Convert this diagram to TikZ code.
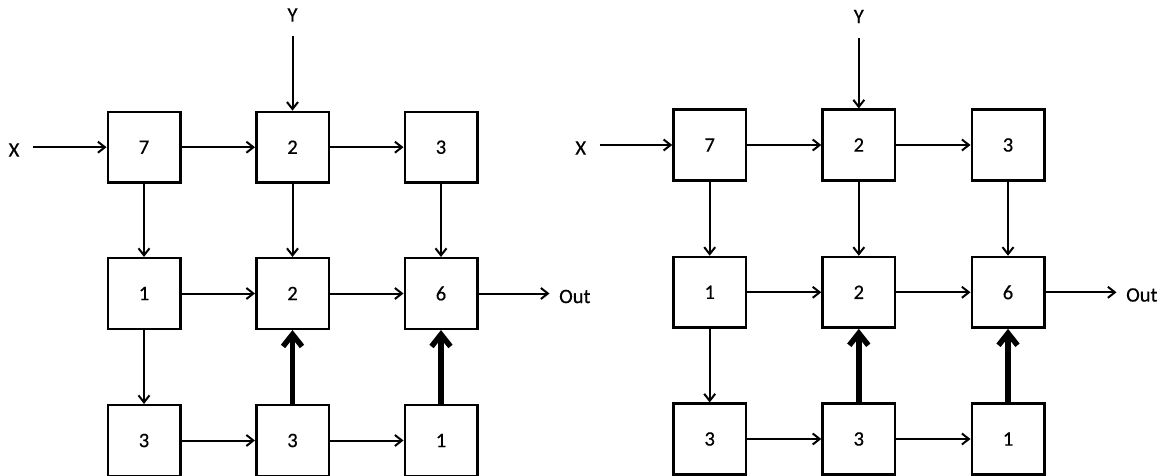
\documentclass[tikz,border=0pt]{standalone}
\usepackage{fontspec}
\setmainfont{Carlito}[FakeBold=0.5]
\usetikzlibrary{arrows.meta}
\begin{document}
\begin{tikzpicture}[x=1pt,y=-1pt,
  cell/.style={draw, line width=2.5pt, minimum width=72.5pt, minimum height=70.6pt, inner sep=0pt, font=\fontsize{20.5}{24}\selectfont},
  lbl/.style={inner sep=0pt, font=\fontsize{20.5}{24}\selectfont},
  conn/.style={line width=2pt, -{Straight Barb[length=7pt,width=11pt]}},
  heavy/.style={line width=5.5pt, -{Straight Barb[length=12pt,width=19pt]}}
]
\useasboundingbox (0,0) rectangle (1164,476);
\foreach \g/\xa/\xb/\xc/\ya/\yb/\yc/\xl/\yl/\ol/\oy/\ys in {L/144/292.5/441/147.2/293.5/440.5/14/150/559/296.5/15, R/709.7/858.8/1008/145/292.3/439/580.7/148/1126/295/16.5} {
  \node[cell] (\g-a1) at (\xa,\ya) {7};
  \node[cell] (\g-a2) at (\xb,\ya) {2};
  \node[cell] (\g-a3) at (\xc,\ya) {3};
  \node[cell] (\g-b1) at (\xa,\yb) {1};
  \node[cell] (\g-b2) at (\xb,\yb) {2};
  \node[cell] (\g-b3) at (\xc,\yb) {6};
  \node[cell] (\g-c1) at (\xa,\yc) {3};
  \node[cell] (\g-c2) at (\xb,\yc) {3};
  \node[cell] (\g-c3) at (\xc,\yc) {1};
  \node[lbl] (\g-x) at (\xl,\yl) {X};
  \node[lbl] (\g-y) at (\xb,\ys) {Y};
  \node[lbl, anchor=west] (\g-out) at (\ol,\oy) {Out};
  \coordinate (\g-xs) at (\xl+19,\ya);
  \coordinate (\g-ys) at (\xb,\ys+21.5);
  \coordinate (\g-oe) at (\ol-9.5,\yb);
  \draw[conn] (\g-xs) -- (\g-a1.west);
  \draw[conn] (\g-ys) -- (\g-a2.north);
  \draw[conn] (\g-a1) -- (\g-a2);
  \draw[conn] (\g-a2) -- (\g-a3);
  \draw[conn] (\g-a1) -- (\g-b1);
  \draw[conn] (\g-a2) -- (\g-b2);
  \draw[conn] (\g-a3) -- (\g-b3);
  \draw[conn] (\g-b1) -- (\g-b2);
  \draw[conn] (\g-b2) -- (\g-b3);
  \draw[conn] (\g-b3.east) -- (\g-oe);
  \draw[conn] (\g-b1) -- (\g-c1);
  \draw[conn] (\g-c1) -- (\g-c2);
  \draw[conn] (\g-c2) -- (\g-c3);
  \draw[heavy] (\g-c2) -- (\g-b2);
  \draw[heavy] (\g-c3) -- (\g-b3);
}
\end{tikzpicture}
\end{document}
